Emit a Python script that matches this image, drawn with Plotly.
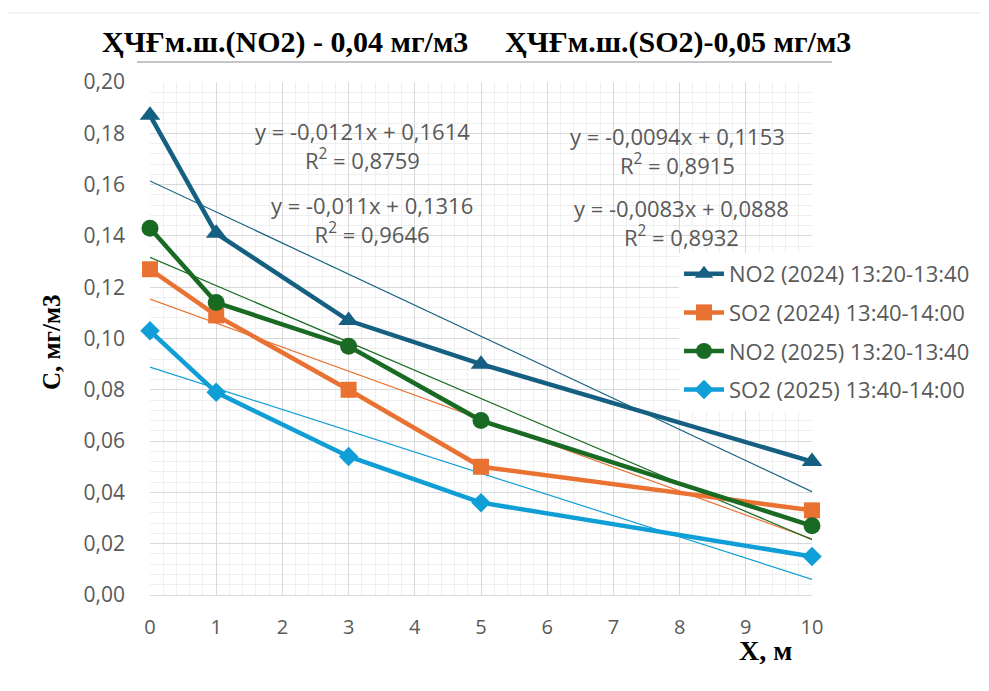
import numpy as np
import plotly.graph_objects as go

# ---- data ----
x_vals = [0, 1, 3, 5, 10]
no2_2024 = [0.187, 0.141, 0.107, 0.090, 0.052]
so2_2024 = [0.127, 0.109, 0.080, 0.050, 0.033]
no2_2025 = [0.143, 0.114, 0.097, 0.068, 0.027]
so2_2025 = [0.103, 0.079, 0.054, 0.036, 0.015]

series_names = ["NO2 (2024) 13:20-13:40", "SO2 (2024) 13:40-14:00",
                "NO2 (2025) 13:20-13:40", "SO2 (2025) 13:40-14:00"]
series_values = [no2_2024, so2_2024, no2_2025, so2_2025]
colors = ["#156082", "#E97132", "#196B24", "#0F9ED5"]
symbols = ["triangle-up", "square", "circle", "diamond"]
marker_sizes = [18, 16, 17, 15]

x_ticks = list(range(0, 11))
trend_x = [0, 10]

equations = [
    ("y = -0,0121x + 0,1614", "R<sup>2</sup> = 0,8759"),
    ("y = -0,0094x + 0,1153", "R<sup>2</sup> = 0,8915"),
    ("y = -0,011x + 0,1316", "R<sup>2</sup> = 0,9646"),
    ("y = -0,0083x + 0,0888", "R<sup>2</sup> = 0,8932"),
]
title_left = "ҲЧҒм.ш.(NO2) - 0,04 мг/м3"
title_right = "ҲЧҒм.ш.(SO2)-0,05 мг/м3"
y_title = "С, мг/м3"
x_title = "Х, м"

# page has an 8px body margin: figure is drawn at screen offset (8, 8)
OFF = 8
SW, SH = 989, 691
W, H = SW - OFF, SH - OFF
# plot area in screen pixels
SL, SR, ST, SB = 150, 812, 82, 595
L, R, T, B = SL - OFF, SR - OFF, ST - OFF, SB - OFF


def px2paper(sx, sy):
    return (sx - SL) / (SR - SL), (SB - sy) / (SB - ST)


fig = go.Figure()

# trendlines (thin)
for vals, col in zip(series_values, colors):
    k, b = np.polyfit(x_vals, vals, 1)
    fig.add_trace(go.Scatter(x=trend_x, y=[b + k * t for t in trend_x], mode="lines",
                             line=dict(color=col, width=1.2), showlegend=False,
                             hoverinfo="skip"))

# data series
for i, (name, vals, col, sym, ms) in enumerate(zip(series_names, series_values, colors, symbols, marker_sizes)):
    fig.add_trace(go.Scatter(x=x_vals, y=vals, mode="lines+markers", name=name,
                             line=dict(color=col, width=4.5),
                             marker=dict(symbol=sym, size=ms, color=col, line=dict(width=0)),
                             cliponaxis=False, legendgroup="g%d" % i))

gray = "#595959"
sans = "Open Sans"
lx, ly = px2paper(679, 253)
fig.update_layout(
    width=W, height=H,
    margin=dict(l=L, r=W - R, t=T, b=H - B, pad=0),
    paper_bgcolor="white", plot_bgcolor="white",
    separators=", ",
    showlegend=True,
    legend=dict(x=lx, y=ly, xanchor="left", yanchor="top",
                bgcolor="white", font=dict(family=sans, size=22, color=gray),
                tracegroupgap=7, itemwidth=40),
    font=dict(family=sans, color=gray),
)

fig.update_xaxes(range=[0, 10], tickvals=x_ticks, showgrid=True, gridcolor="#d9d9d9", gridwidth=1,
                 minor=dict(dtick=0.2, showgrid=True, gridcolor="#efefef", gridwidth=1),
                 showline=True, linecolor="#d9d9d9", linewidth=1, zeroline=False,
                 ticks="", ticklabelstandoff=14,
                 tickfont=dict(family=sans, size=20, color=gray))
fig.update_yaxes(range=[0, 0.2], dtick=0.02, tickformat=".2f", showgrid=True, gridcolor="#d9d9d9",
                 gridwidth=1,
                 minor=dict(dtick=0.004, showgrid=True, gridcolor="#efefef", gridwidth=1),
                 showline=False, zeroline=False, ticks="", ticklabelstandoff=24,
                 tickfont=dict(family=sans, size=21, color=gray))

# equations (screen pixel centres of the two-line blocks)
eq_pos = [(362, 145), (677, 150), (372, 219), (681, 222)]
for (eq, r2), (sx, sy) in zip(equations, eq_pos):
    ax, ay = px2paper(sx, sy)
    fig.add_annotation(x=ax, y=ay, xref="paper", yref="paper", text=eq + "<br>" + r2,
                       showarrow=False, xanchor="center", yanchor="middle", align="center",
                       font=dict(family=sans, size=22, color=gray))

serif = "Liberation Serif"
ax, ay = px2paper(100, 42)
fig.add_annotation(x=ax, y=ay, xref="paper", yref="paper", text="<b>%s</b>" % title_left,
                   showarrow=False, xanchor="left", yanchor="middle",
                   font=dict(family=serif, size=30, color="black"))
ax, ay = px2paper(503, 42)
fig.add_annotation(x=ax, y=ay, xref="paper", yref="paper", text="<b>%s</b>" % title_right,
                   showarrow=False, xanchor="left", yanchor="middle",
                   font=dict(family=serif, size=30, color="black"))
ax, ay = px2paper(51, 343)
fig.add_annotation(x=ax, y=ay, xref="paper", yref="paper", text="<b>%s</b>" % y_title,
                   showarrow=False, textangle=-90, xanchor="center", yanchor="middle",
                   font=dict(family=serif, size=25, color="black"))
ax, ay = px2paper(765, 650)
fig.add_annotation(x=ax, y=ay, xref="paper", yref="paper", text="<b>%s</b>" % x_title,
                   showarrow=False, xanchor="center", yanchor="middle",
                   font=dict(family=serif, size=28, color="black"))

# decorative lines
x0, y0 = px2paper(137, 62)
x1, _ = px2paper(832, 62)
fig.add_shape(type="line", xref="paper", yref="paper", x0=x0, x1=x1, y0=y0, y1=y0,
              line=dict(color="#8c8c8c", width=1))
x0, y0 = px2paper(OFF, 13)
x1, _ = px2paper(SW, 13)
fig.add_shape(type="line", xref="paper", yref="paper", x0=x0, x1=x1, y0=y0, y1=y0,
              line=dict(color="#e6e6e6", width=1))

fig.write_html("out.html")
